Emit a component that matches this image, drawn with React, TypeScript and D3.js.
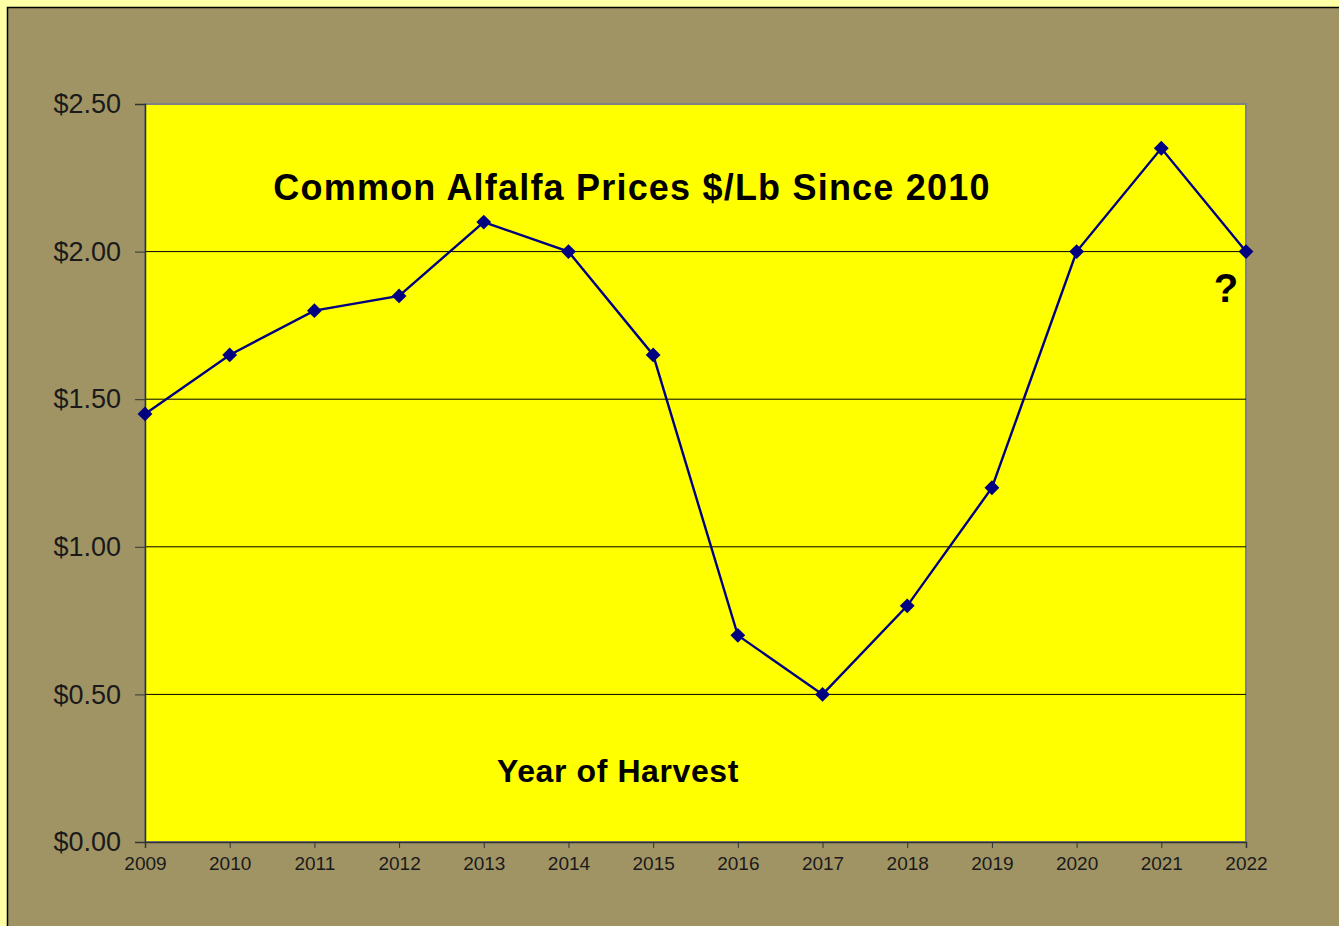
import React, { useEffect, useRef } from 'react';
import * as d3 from 'd3';

const years = [2009, 2010, 2011, 2012, 2013, 2014, 2015, 2016, 2017, 2018, 2019, 2020, 2021, 2022];
const prices = [1.45, 1.65, 1.8, 1.85, 2.1, 2.0, 1.65, 0.7, 0.5, 0.8, 1.2, 2.0, 2.35, 2.0];
const yTicks = [0, 0.5, 1.0, 1.5, 2.0, 2.5];

function App() {
  const ref = useRef<SVGSVGElement>(null);

  useEffect(() => {
    const W = 1339, H = 926;
    const margin = { top: 104, right: 93, bottom: 84, left: 145 };
    const width = W - margin.left - margin.right;
    const height = H - margin.top - margin.bottom;
    const font = 'Liberation Sans, Arial, sans-serif';

    const svg = d3.select(ref.current).attr('width', W).attr('height', H);
    svg.selectAll('*').remove();

    // page + khaki frame
    svg.append('rect').attr('width', W).attr('height', H).attr('fill', '#FFFFA6');
    svg.append('rect')
      .attr('x', 7.5).attr('y', 7.5).attr('width', W).attr('height', H)
      .attr('fill', '#A09465').attr('stroke', '#000').attr('stroke-width', 1.5);

    const g = svg.append('g').attr('transform', `translate(${margin.left},${margin.top})`);

    const x = d3.scaleLinear().domain([2009, 2022]).range([0, width]);
    const y = d3.scaleLinear().domain([0, 2.5]).range([height, 0]);

    g.append('rect')
      .attr('width', width).attr('height', height)
      .attr('fill', '#FFFF00').attr('stroke', '#808080').attr('stroke-width', 2);

    // grid
    g.selectAll('.grid')
      .data(yTicks.slice(1, -1))
      .enter().append('line')
      .attr('x1', 0).attr('x2', width)
      .attr('y1', d => y(d)).attr('y2', d => y(d))
      .attr('stroke', '#000').attr('stroke-width', 1);

    const yAxis = g.append('g')
      .call(d3.axisLeft(y).tickValues(yTicks).tickSize(10).tickPadding(14).tickFormat(d => '$' + d3.format('.2f')(d as number)));
    yAxis.select('.domain').attr('stroke', '#333').attr('stroke-width', 1.5);
    yAxis.selectAll('line').attr('stroke', '#333');
    yAxis.selectAll('text')
      .attr('font-family', font)
      .attr('font-size', 27).attr('fill', '#1a1a1a');

    const xAxis = g.append('g')
      .attr('transform', `translate(0,${height})`)
      .call(d3.axisBottom(x).tickValues(years).tickSize(6).tickPadding(9).tickFormat(d3.format('d')));
    xAxis.select('.domain').attr('stroke', '#333').attr('stroke-width', 1.5);
    xAxis.selectAll('line').attr('stroke', '#333');
    xAxis.selectAll('text')
      .attr('font-family', font)
      .attr('font-size', 19).attr('fill', '#1a1a1a');

    const pts = years.map((yr, i) => ({ yr, v: prices[i] }));

    g.append('path')
      .datum(pts)
      .attr('fill', 'none').attr('stroke', '#000080').attr('stroke-width', 2.4)
      .attr('d', d3.line<{ yr: number; v: number }>().x(d => x(d.yr)).y(d => y(d.v)));

    g.selectAll('.pt')
      .data(pts)
      .enter().append('path')
      .attr('transform', d => `translate(${x(d.yr)},${y(d.v)})`)
      .attr('d', d3.symbol().type(d3.symbolDiamond2).size(140)())
      .attr('fill', '#000080');

    svg.append('text')
      .attr('x', 632).attr('y', 200).attr('text-anchor', 'middle')
      .attr('font-family', font).attr('font-weight', 'bold').attr('font-size', 36)
      .attr('letter-spacing', 1.2)
      .text('Common Alfalfa  Prices $/Lb Since 2010');
    svg.append('text')
      .attr('x', 618).attr('y', 782).attr('text-anchor', 'middle')
      .attr('font-family', font).attr('font-weight', 'bold').attr('font-size', 32)
      .attr('letter-spacing', 0.6)
      .text('Year of Harvest');
    svg.append('text')
      .attr('x', 1226).attr('y', 302).attr('text-anchor', 'middle')
      .attr('font-family', font).attr('font-weight', 'bold').attr('font-size', 40)
      .text('?');
  }, []);

  return (
    <div>
      <style>{'body{margin:0}'}</style>
      <svg ref={ref} style={{ display: 'block' }}></svg>
    </div>
  );
}

export default App;
